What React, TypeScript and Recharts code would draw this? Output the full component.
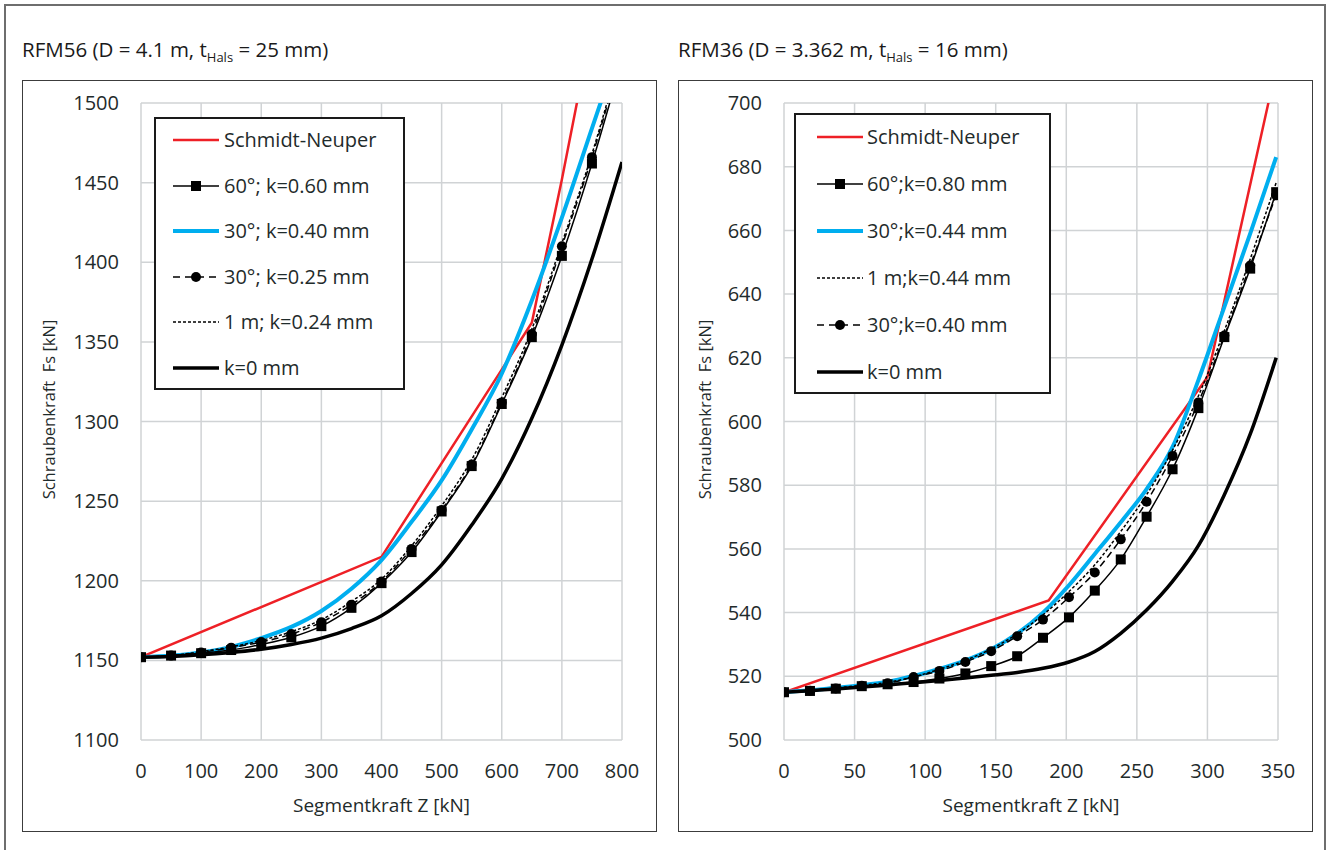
import React from "react";
import { CartesianGrid, Legend, Line, LineChart, XAxis, YAxis } from "recharts";

const FONT = '"Open Sans", sans-serif';
const TEXT = "#1f2b2b";
const GRID = "#d0d3d5";
const RED = "#ee2026";
const BLUE = "#00aeef";

// ---- RFM56 (left) ----
const Z56 = [0, 50, 100, 150, 200, 250, 300, 350, 400, 450, 500, 550, 600, 650, 700, 750, 800];
const SN56_Z = [0, 400, 650, 700, 750];
const SN56 = [1152, 1215, 1362, 1452, 1548];
const SQ56 = [1152, 1153, 1154.5, 1156.5, 1160, 1164.5, 1171.5, 1183, 1198.5, 1218, 1243.5, 1272, 1311, 1353, 1404, 1462, 1527];
const BLUE56 = [1152, 1153, 1155, 1158.5, 1164, 1171, 1181, 1195, 1213, 1237, 1263, 1295, 1330, 1376, 1428, 1484, 1540];
const CIR56 = [1152, 1153, 1155, 1158, 1161.5, 1166.5, 1174, 1185, 1199.5, 1220, 1244.5, 1273, 1312, 1355, 1410, 1466, 1532];
const DASH56 = [1152, 1153, 1155.5, 1158.5, 1162.5, 1168, 1175.5, 1187, 1201, 1222, 1247, 1276, 1315, 1358, 1412, 1468, 1534];
const K0_56 = [1152, 1152.5, 1153.5, 1155, 1157, 1160, 1164, 1170, 1178, 1192, 1210, 1235, 1264, 1302, 1348, 1402, 1463];
const X56_TICKS = [0, 100, 200, 300, 400, 500, 600, 700, 800];
const Y56_TICKS = [1100, 1150, 1200, 1250, 1300, 1350, 1400, 1450, 1500];

// ---- RFM36 (right) ----
const Z36 = [0, 18.4, 36.7, 55.1, 73.4, 91.8, 110.1, 128.5, 146.8, 165.2, 183.5, 201.9, 220.2, 238.6, 256.9, 275.3, 293.6, 312, 330.3, 348.7];
const SN36_Z = [0, 187.5, 300, 348.7];
const SN36 = [515, 543.8, 614, 711];
const SQ36 = [515, 515.4, 516.1, 516.9, 517.5, 518.2, 519.3, 520.9, 523.2, 526.3, 532.1, 538.5, 546.9, 556.7, 570.1, 585, 604.2, 626.5, 648, 672];
const BLUE36 = [515, 515.6, 516.4, 517.2, 518.3, 520.1, 522.3, 525, 528.5, 533.4, 540, 548.6, 558.4, 568.4, 578.8, 592, 613, 636, 659, 683];
const DASH36 = [515, 515.6, 516.3, 517.2, 518.1, 519.8, 522.2, 525, 528.6, 533.3, 539.3, 546.6, 555, 565.5, 577, 591, 608, 628.5, 651, 675];
const CIR36 = [515, 515.5, 516.2, 517, 517.8, 519.8, 521.7, 524.5, 527.9, 532.6, 537.8, 544.8, 552.6, 563, 574.8, 589.2, 606, 627, 649, 671];
const K0_36 = [515, 515.5, 516, 516.6, 517.3, 518, 518.7, 519.5, 520.3, 521.2, 522.5, 524.5, 527.8, 533.5, 540.8, 549.8, 561, 577, 596, 620];
const X36_TICKS = [0, 50, 100, 150, 200, 250, 300, 350];
const Y36_TICKS = [500, 520, 540, 560, 580, 600, 620, 640, 660, 680, 700];

const pts = (zs: number[], vs: number[]) => zs.map((z, i) => ({ z, v: vs[i] }));

const squareDot = (props: any) => {
  const { cx, cy, index } = props;
  if (cx == null || cy == null) return <g key={`s${index}`} />;
  return <rect key={`s${index}`} x={cx - 5} y={cy - 5} width={10} height={10} fill="#000" />;
};

const circleDot = (props: any) => {
  const { cx, cy, index } = props;
  if (cx == null || cy == null) return <g key={`c${index}`} />;
  return <circle key={`c${index}`} cx={cx} cy={cy} r={5} fill="#000" />;
};

type Kind = "red" | "square" | "blue" | "circle" | "dash" | "thick";

function Sample({ kind, w }: { kind: Kind; w: number }) {
  const y = 9;
  return (
    <svg width={w} height={18} style={{ display: "block" }}>
      {kind === "red" && <line x1={0} x2={w} y1={y} y2={y} stroke={RED} strokeWidth={2.5} />}
      {kind === "blue" && <line x1={0} x2={w} y1={y} y2={y} stroke={BLUE} strokeWidth={4} />}
      {kind === "thick" && <line x1={0} x2={w} y1={y} y2={y} stroke="#000" strokeWidth={3.5} />}
      {kind === "dash" && (
        <line x1={0} x2={w} y1={y} y2={y} stroke="#000" strokeWidth={1.5} strokeDasharray="3 2" />
      )}
      {kind === "square" && (
        <g>
          <line x1={0} x2={w} y1={y} y2={y} stroke="#000" strokeWidth={1.5} />
          <rect x={w / 2 - 5} y={y - 5} width={10} height={10} fill="#000" />
        </g>
      )}
      {kind === "circle" && (
        <g>
          <line x1={0} x2={w} y1={y} y2={y} stroke="#000" strokeWidth={1.5} strokeDasharray="7 5" />
          <circle cx={w / 2} cy={y} r={5} fill="#000" />
        </g>
      )}
    </svg>
  );
}

function LegendBox({
  items,
  width,
  height,
  first,
  step,
  sampleLeft,
  sampleW,
  textLeft,
}: {
  items: { label: string; kind: Kind }[];
  width: number;
  height: number;
  first: number;
  step: number;
  sampleLeft: number;
  sampleW: number;
  textLeft: number;
}) {
  return (
    <div
      style={{
        position: "relative",
        width,
        height,
        boxSizing: "border-box",
        border: "2px solid #1a1a1a",
        background: "#fff",
        fontFamily: FONT,
      }}
    >
      {items.map((it, i) => {
        const cy = first + i * step - 2;
        return (
          <div key={it.label}>
            <div style={{ position: "absolute", left: sampleLeft - 2, top: cy - 9 }}>
              <Sample kind={it.kind} w={sampleW} />
            </div>
            <div
              style={{
                position: "absolute",
                left: textLeft - 2,
                top: cy - 14,
                fontSize: 20,
                lineHeight: "28px",
                color: TEXT,
                whiteSpace: "nowrap",
              }}
            >
              {it.label}
            </div>
          </div>
        );
      })}
    </div>
  );
}

const yLabel = (props: any) => {
  const vb = props.viewBox || { x: 0, y: 23, width: 119, height: 637 };
  const x = vb.x + 26;
  const y = vb.y + vb.height / 2 - 12;
  return (
    <text
      x={x}
      y={y}
      transform={`rotate(-90, ${x}, ${y})`}
      textAnchor="middle"
      dominantBaseline="central"
      fontSize={16.5}
      fill={TEXT}
      fontFamily={FONT}
    >
      Schraubenkraft{"\u00a0 "}Fs [kN]
    </text>
  );
};

const xLabel = (props: any) => {
  const vb = props.viewBox || { x: 119, y: 660, width: 481, height: 92 };
  return (
    <text
      x={vb.x + vb.width / 2}
      y={vb.y + 65}
      textAnchor="middle"
      dominantBaseline="central"
      fontSize={19}
      fill={TEXT}
      fontFamily={FONT}
    >
      Segmentkraft Z [kN]
    </text>
  );
};

type Series = { name: string; kind: Kind; data: { z: number; v: number }[] };

function Panel({
  series,
  legendOrder,
  xDomain,
  xTicks,
  yDomain,
  yTicks,
  yWidth,
  legendPos,
}: {
  series: Series[];
  legendOrder: string[];
  xDomain: [number, number];
  xTicks: number[];
  yDomain: [number, number];
  yTicks: number[];
  yWidth: number;
  legendPos: { left: number; top: number; width: number; height: number; first: number; step: number; sampleLeft: number; textLeft: number };
}) {
  const items = legendOrder.map((n) => {
    const s = series.find((q) => q.name === n)!;
    return { label: s.name, kind: s.kind };
  });
  const tickStyle = { fontSize: 20, fill: TEXT, fontFamily: FONT };
  return (
    <LineChart width={635} height={752} margin={{ top: 23, right: 35, bottom: 0, left: 0 }}>
      <CartesianGrid stroke={GRID} strokeWidth={1.5} />
      <XAxis
        type="number"
        dataKey="z"
        domain={xDomain}
        ticks={xTicks}
        allowDataOverflow
        axisLine={false}
        tickLine={false}
        tickSize={0}
        tickMargin={24}
        height={92}
        tick={tickStyle}
        label={xLabel}
      />
      <YAxis
        type="number"
        domain={yDomain}
        ticks={yTicks}
        allowDataOverflow
        axisLine={false}
        tickLine={false}
        tickSize={0}
        tickMargin={22}
        width={yWidth}
        tick={tickStyle}
        label={yLabel}
      />
      {series.map((s) => {
        const common = {
          key: s.name,
          data: s.data,
          dataKey: "v",
          name: s.name,
          type: "monotone" as const,
          isAnimationActive: false,
          connectNulls: true,
        };
        if (s.kind === "red")
          return <Line {...common} type="linear" stroke={RED} strokeWidth={2.5} dot={false} />;
        if (s.kind === "blue") return <Line {...common} stroke={BLUE} strokeWidth={4} dot={false} />;
        if (s.kind === "thick") return <Line {...common} stroke="#000" strokeWidth={3.5} dot={false} />;
        if (s.kind === "dash")
          return <Line {...common} stroke="#000" strokeWidth={1.5} strokeDasharray="3 2" dot={false} />;
        if (s.kind === "circle")
          return <Line {...common} stroke="#000" strokeWidth={1.5} strokeDasharray="7 4" dot={circleDot} />;
        return <Line {...common} stroke="#000" strokeWidth={1.5} dot={squareDot} />;
      })}
      <Legend
        layout="horizontal"
        verticalAlign="middle"
        align="center"
        wrapperStyle={{ left: legendPos.left, top: legendPos.top, width: legendPos.width, height: legendPos.height }}
        content={() => (
          <LegendBox
            items={items}
            width={legendPos.width}
            height={legendPos.height}
            first={legendPos.first}
            step={legendPos.step}
            sampleLeft={legendPos.sampleLeft}
            sampleW={46}
            textLeft={legendPos.textLeft}
          />
        )}
      />
    </LineChart>
  );
}

const series56: Series[] = [
  { name: "Schmidt-Neuper", kind: "red", data: pts(SN56_Z, SN56) },
  { name: "30°; k=0.40 mm", kind: "blue", data: pts(Z56, BLUE56) },
  { name: "k=0 mm", kind: "thick", data: pts(Z56, K0_56) },
  { name: "1 m; k=0.24 mm", kind: "dash", data: pts(Z56, DASH56) },
  { name: "30°; k=0.25 mm", kind: "circle", data: pts(Z56, CIR56) },
  { name: "60°; k=0.60 mm", kind: "square", data: pts(Z56, SQ56) },
];
const order56 = ["Schmidt-Neuper", "60°; k=0.60 mm", "30°; k=0.40 mm", "30°; k=0.25 mm", "1 m; k=0.24 mm", "k=0 mm"];

const series36: Series[] = [
  { name: "Schmidt-Neuper", kind: "red", data: pts(SN36_Z, SN36) },
  { name: "30°;k=0.44 mm", kind: "blue", data: pts(Z36, BLUE36) },
  { name: "k=0 mm", kind: "thick", data: pts(Z36, K0_36) },
  { name: "1 m;k=0.44 mm", kind: "dash", data: pts(Z36, DASH36) },
  { name: "30°;k=0.40 mm", kind: "circle", data: pts(Z36, CIR36) },
  { name: "60°;k=0.80 mm", kind: "square", data: pts(Z36, SQ36) },
];
const order36 = ["Schmidt-Neuper", "60°;k=0.80 mm", "30°;k=0.44 mm", "1 m;k=0.44 mm", "30°;k=0.40 mm", "k=0 mm"];

function Title({ left, main, tail }: { left: number; main: string; tail: string }) {
  return (
    <div
      style={{
        position: "absolute",
        left,
        top: 39,
        fontSize: 20.5,
        lineHeight: "20px",
        color: "#1a1a1a",
        fontFamily: FONT,
        whiteSpace: "nowrap",
      }}
    >
      {main}
      <span style={{ fontSize: 13, position: "relative", top: 5 }}>Hals</span>
      {tail}
    </div>
  );
}

export default function App() {
  return (
    <div
      style={{
        position: "absolute",
        left: 0,
        top: 0,
        width: 1330,
        height: 850,
        overflow: "hidden",
        background: "#fff",
        fontFamily: FONT,
      }}
    >
      <div
        style={{
          position: "absolute",
          left: 4,
          top: 4,
          width: 1322,
          height: 900,
          border: "2px solid #6e6e6e",
          boxSizing: "border-box",
        }}
      />
      <Title left={22} main="RFM56 (D = 4.1 m, t" tail=" = 25 mm)" />
      <Title left={678} main="RFM36 (D = 3.362 m, t" tail=" = 16 mm)" />

      <div style={{ position: "absolute", left: 22, top: 80, width: 635, height: 752 }}>
        <Panel
          series={series56}
          legendOrder={order56}
          xDomain={[0, 800]}
          xTicks={X56_TICKS}
          yDomain={[1100, 1500]}
          yTicks={Y56_TICKS}
          yWidth={119}
          legendPos={{ left: 132, top: 37, width: 251, height: 273, first: 23, step: 45.5, sampleLeft: 19, textLeft: 70 }}
        />
      </div>
      <div
        style={{
          position: "absolute",
          left: 22,
          top: 80,
          width: 635,
          height: 752,
          border: "1.5px solid #3c3c3c",
          boxSizing: "border-box",
          pointerEvents: "none",
        }}
      />

      <div style={{ position: "absolute", left: 678, top: 80, width: 635, height: 752 }}>
        <Panel
          series={series36}
          legendOrder={order36}
          xDomain={[0, 350]}
          xTicks={X36_TICKS}
          yDomain={[500, 700]}
          yTicks={Y36_TICKS}
          yWidth={106}
          legendPos={{ left: 116, top: 33, width: 257, height: 281, first: 24, step: 47, sampleLeft: 23, textLeft: 73 }}
        />
      </div>
      <div
        style={{
          position: "absolute",
          left: 678,
          top: 80,
          width: 635,
          height: 752,
          border: "1.5px solid #3c3c3c",
          boxSizing: "border-box",
          pointerEvents: "none",
        }}
      />
    </div>
  );
}
